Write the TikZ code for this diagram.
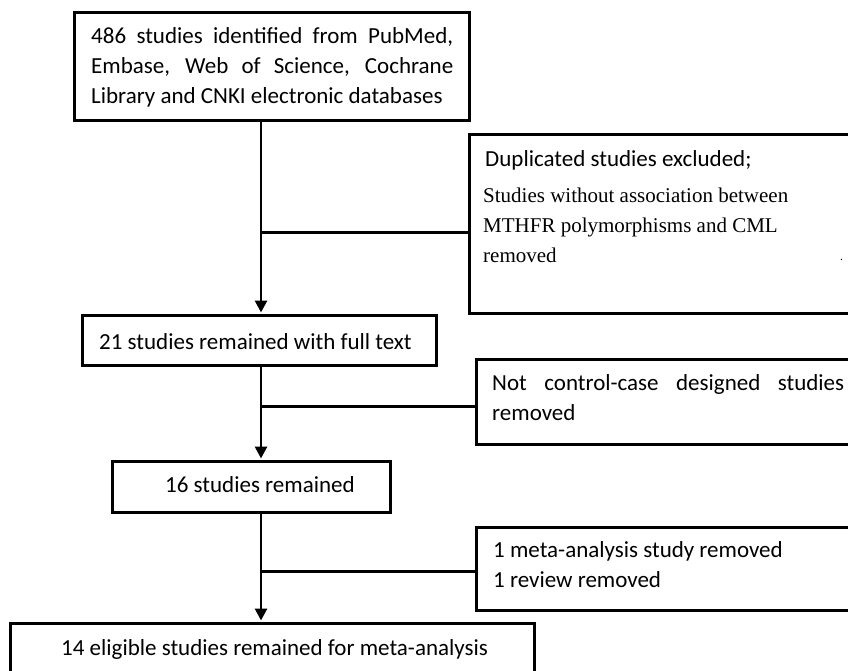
\documentclass[tikz,border=0pt]{standalone}
\usepackage{fontspec}
\setmainfont{Carlito}
\newfontfamily\tms{Liberation Serif}
\usetikzlibrary{arrows.meta}
\begin{document}
\begin{tikzpicture}[x=1pt,y=-1pt,
  box/.style={draw,line width=3pt,rectangle,inner sep=0pt},
  conn/.style={line width=2.8pt,-{Triangle[width=12pt,length=12pt]},shorten >=1pt},
  branch/.style={line width=3pt},
  txt/.style={inner sep=0pt,anchor=base west,font=\fontsize{23}{30}\selectfont},
  serif/.style={txt,font=\tms\fontsize{21}{29.5}\selectfont}]
\useasboundingbox (0,0) rectangle (848,671);
% boxes
\node[box,minimum width=395pt,minimum height=108pt] (b1) at (271.5,67) {};
\node[box,minimum width=411pt,minimum height=178pt] (dup) at (674.5,224) {};
\node[box,minimum width=354pt,minimum height=50pt] (b21) at (259,340) {};
\node[box,minimum width=404pt,minimum height=85pt] (nt) at (678,401.5) {};
\node[box,minimum width=278pt,minimum height=51pt] (b16) at (251,486.5) {};
\node[box,minimum width=404pt,minimum height=83pt] (meta) at (678,568.5) {};
\node[box,minimum width=524pt,minimum height=77pt] (b14) at (272,661.5) {};
% texts
\node[txt] (t1) at (91,44) {\parbox[t]{362pt}{\makebox[362pt][s]{486 studies identified from PubMed,}\\\makebox[362pt][s]{Embase, Web of Science, Cochrane}\\Library and CNKI electronic databases}};
\node[txt] (t2) at (485,167) {Duplicated studies excluded;};
\node[serif] (t3) at (483,203) {\parbox[t]{340pt}{Studies without association between\\MTHFR polymorphisms and CML\\removed}};
\node[txt,font=\tms\fontsize{12}{12}\selectfont] (dot) at (840,260) {.};
\node[txt] (t4) at (99,349) {21 studies remained with full text};
\node[txt] (t5) at (492,390) {\parbox[t]{352pt}{\makebox[352pt][s]{Not control-case designed studies}\\removed}};
\node[txt] (t6) at (165,492) {16 studies remained};
\node[txt] (t7) at (493,557) {\parbox[t]{340pt}{1 meta-analysis study removed\\1 review removed}};
\node[txt] (t8) at (61,655) {14 eligible studies remained for meta-analysis};
% connectors
\coordinate (sp) at (261,0);
\coordinate (j1) at (261,232);
\coordinate (j2) at (261,406);
\coordinate (j3) at (261,571);
\draw[conn] (b1.south -| sp) -- (b21.north -| sp);
\draw[conn] (b21.south -| sp) -- (b16.north -| sp);
\draw[conn] (b16.south -| sp) -- (b14.north -| sp);
\draw[branch] (j1) -- (j1 -| dup.west);
\draw[branch] (j2) -- (j2 -| nt.west);
\draw[branch] (j3) -- (j3 -| meta.west);
\end{tikzpicture}
\end{document}
